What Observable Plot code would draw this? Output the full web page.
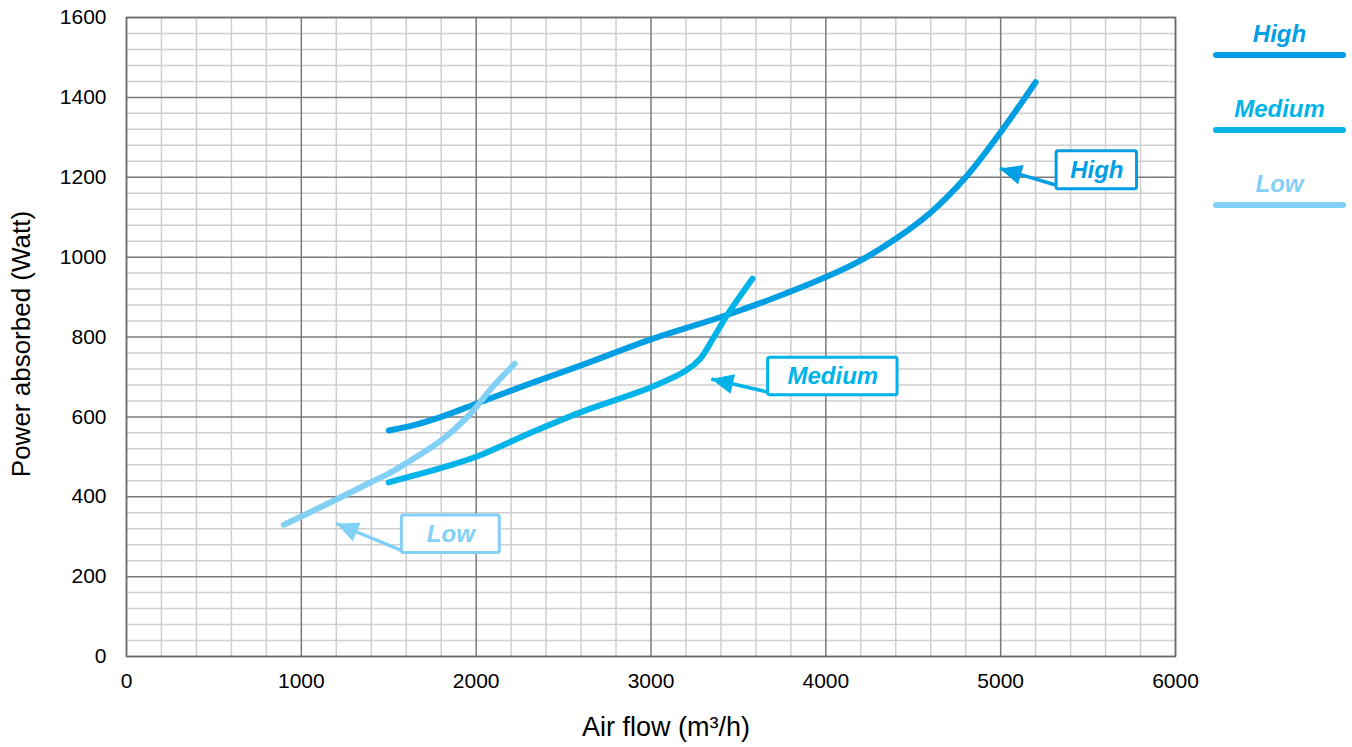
<!DOCTYPE html>
<html>
<head>
<meta charset="utf-8">
<script src="https://cdn.jsdelivr.net/npm/d3@7"></script>
<script src="https://cdn.jsdelivr.net/npm/@observablehq/plot@0.6"></script>
<style>
  body { margin: 0; background: #fff; font-family: "Liberation Sans", Arial, sans-serif; }
  #wrap { position: relative; width: 1352px; height: 747px; }
  #legend { position: absolute; left: 1213px; top: 20px; width: 133px; }
  .item { height: 75px; }
  .item .t { font: italic bold 24px "Liberation Sans", Arial, sans-serif; text-align: center; line-height: 28px; height: 28px; }
  .item .l { margin-top: 4px; height: 6px; border-radius: 3px; }
</style>
</head>
<body>
<div id="wrap"><div id="chart"></div><div id="legend"></div></div>
<script>
// ---- data ----
const seriesNames = ["High", "Medium", "Low"];
const seriesColors = ["#009FE3", "#00B4EA", "#82D0F5"];

const highX = [1500, 1650, 1800, 2000, 2300, 2600, 3000, 3400, 3700, 4000, 4200, 4400, 4600, 4800, 5000, 5200];
const highY = [566, 580, 600, 633, 682, 729, 794, 850, 897, 950, 992, 1046, 1112, 1200, 1313, 1438];

const mediumX = [1500, 1800, 2000, 2300, 2600, 3000, 3200, 3280, 3360, 3440, 3580];
const mediumY = [436, 472, 500, 558, 612, 674, 716, 745, 800, 858, 946];

const lowX = [900, 1200, 1400, 1500, 1600, 1800, 1950, 2100, 2220];
const lowY = [330, 393, 437, 458, 484, 541, 600, 678, 733];

const xTicks = [0, 1000, 2000, 3000, 4000, 5000, 6000];
const yTicks = [0, 200, 400, 600, 800, 1000, 1200, 1400, 1600];

// annotation callouts: label, box corners, arrow start and tip (data units)
const annLabel = ["High", "Medium", "Low"];
const annBoxX1 = [5320, 3670, 1575];
const annBoxX2 = [5780, 4410, 2135];
const annBoxY1 = [1170, 654, 259];
const annBoxY2 = [1265, 748, 353];
const annFromX = [5320, 3670, 1575];
const annFromY = [1180, 662, 265];
const annToX = [4995, 3345, 1200];
const annToY = [1222, 695, 333];

// ---- layout ----
const W = 1352, H = 747, mL = 126, mR = 177, mT = 17, mB = 91;
const xDomain = [0, 6000], yDomain = [0, 1600];
const kx = (W - mL - mR) / (xDomain[1] - xDomain[0]);
const ky = (H - mT - mB) / (yDomain[1] - yDomain[0]);

// ---- build tables ----
const xsAll = [highX, mediumX, lowX], ysAll = [highY, mediumY, lowY];
const rows = [];
seriesNames.forEach((s, i) => xsAll[i].forEach((x, j) => rows.push({series: s, x, y: ysAll[i][j]})));
const colorOf = Object.fromEntries(seriesNames.map((s, i) => [s, seriesColors[i]]));
const ann = annLabel.map((l, i) => ({
  label: l, x1: annBoxX1[i], x2: annBoxX2[i], y1: annBoxY1[i], y2: annBoxY2[i],
  fx: annFromX[i], fy: annFromY[i], tx: annToX[i], ty: annToY[i], color: colorOf[l],
  angle: Math.atan2((annToX[i] - annFromX[i]) * kx, (annToY[i] - annFromY[i]) * ky) * 180 / Math.PI
}));

const minorX = d3.range(0, 6001, 200).filter(v => v % 1000 !== 0);
const minorY = d3.range(0, 1601, 40).filter(v => v % 200 !== 0);

const chart = Plot.plot({
  width: W, height: H,
  marginLeft: mL, marginRight: mR, marginTop: mT, marginBottom: mB,
  style: {fontSize: "21px", fontFamily: "'Liberation Sans', Arial, sans-serif", color: "#000", background: "#fff"},
  x: {domain: xDomain},
  y: {domain: yDomain},
  marks: [
    Plot.ruleX(minorX, {stroke: "#cfcfcf", strokeWidth: 1.5}),
    Plot.ruleY(minorY, {stroke: "#cfcfcf", strokeWidth: 1.5}),
    Plot.ruleX(xTicks, {stroke: "#7a7a7a", strokeWidth: 1.5}),
    Plot.ruleY(yTicks, {stroke: "#7a7a7a", strokeWidth: 1.5}),
    Plot.frame({stroke: "#6a6a6a", strokeWidth: 1.5}),
    Plot.axisX(xTicks, {tickSize: 0, tickPadding: 17, tickFormat: d => String(d), label: null, fontSize: 21}),
    Plot.axisY(yTicks, {tickSize: 0, tickPadding: 20, tickFormat: d => String(d), label: null, fontSize: 21}),
    Plot.line(rows, {x: "x", y: "y", z: "series", stroke: d => colorOf[d.series], strokeWidth: 6, strokeLinecap: "round", curve: "catmull-rom"}),
    Plot.link(ann, {x1: "fx", y1: "fy", x2: "tx", y2: "ty", stroke: d => d.color, strokeWidth: 3.5}),
    Plot.vector(ann, {x: "tx", y: "ty", rotate: "angle", length: 22, r: 10, shape: "spike", anchor: "end", fill: d => d.color, stroke: "none"}),
    Plot.rect(ann, {x1: "x1", x2: "x2", y1: "y1", y2: "y2", fill: "#fff", stroke: d => d.color, strokeWidth: 3, rx: 2}),
    Plot.text(ann, {x: d => (d.x1 + d.x2) / 2, y: d => (d.y1 + d.y2) / 2, text: "label", fill: d => d.color, fontSize: 24, fontWeight: "bold", fontStyle: "italic"})
  ]
});

// axis titles as real SVG text
const svg = d3.select(chart);
svg.append("text").attr("x", 666).attr("y", 736).attr("text-anchor", "middle")
  .style("font-size", "27px").attr("fill", "#000").text("Air flow (m³/h)");
svg.append("text").attr("transform", "translate(30,344) rotate(-90)").attr("text-anchor", "middle")
  .style("font-size", "26px").attr("fill", "#000").text("Power absorbed (Watt)");

document.getElementById("chart").appendChild(chart);

// legend
const leg = d3.select("#legend");
seriesNames.forEach((s, i) => {
  const it = leg.append("div").attr("class", "item");
  it.append("div").attr("class", "t").style("color", seriesColors[i]).text(s);
  it.append("div").attr("class", "l").style("background", seriesColors[i]);
});
</script>
</body>
</html>
